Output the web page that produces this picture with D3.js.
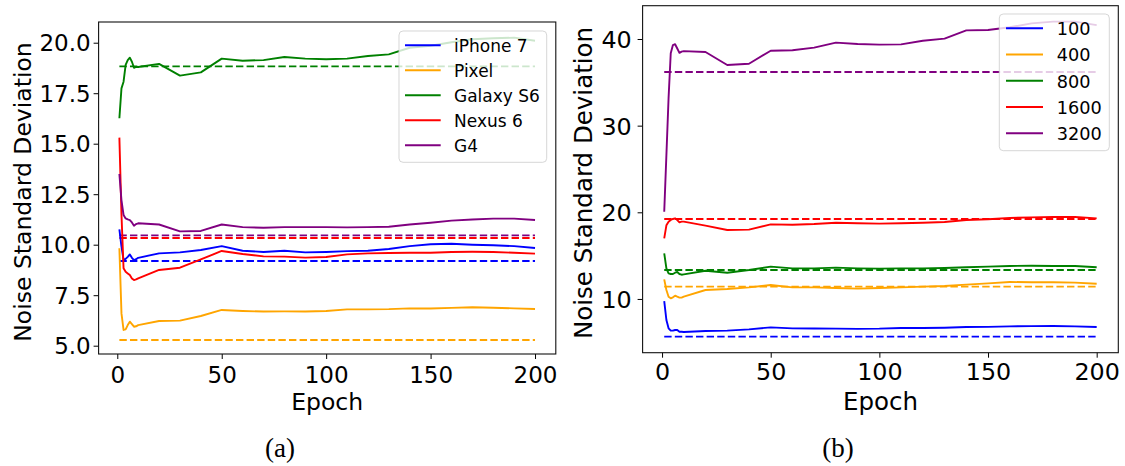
<!DOCTYPE html>
<html>
<head>
<meta charset="utf-8">
<script src="https://cdn.jsdelivr.net/npm/d3@7"></script>
<style>
  html, body { margin: 0; padding: 0; background: #fff; }
  svg { display: block; }
  text { font-family: "DejaVu Sans", sans-serif; fill: #000; }
</style>
</head>
<body>
<svg id="chart" width="1125" height="466"></svg>
<script>
// ---------- data ----------
const epochs = [1,2,3,4,5,6,7,8,9,10,20,30,40,50,60,70,80,90,100,110,120,130,140,150,160,170,180,190,200];

// Panel (a): phones
const phoneNames = ["iPhone 7", "Pixel", "Galaxy S6", "Nexus 6", "G4"];
const phoneColors = ["blue", "orange", "green", "red", "purple"];
const iphone7 = [10.76, 9.9, 9.25, 9.30, 9.40, 9.52, 9.35, 9.24, 9.28, 9.35, 9.57, 9.62, 9.74, 9.93, 9.70, 9.64, 9.70, 9.62, 9.64, 9.68, 9.70, 9.79, 9.93, 10.02, 10.05, 10.00, 9.97, 9.93, 9.84];
const pixel = [9.82, 6.6, 5.78, 5.81, 6.02, 6.19, 6.07, 5.94, 5.96, 6.02, 6.22, 6.24, 6.47, 6.77, 6.72, 6.69, 6.70, 6.69, 6.72, 6.80, 6.80, 6.81, 6.85, 6.84, 6.87, 6.90, 6.88, 6.85, 6.82];
const galaxyS6 = [16.26, 17.74, 18.07, 18.9, 19.14, 19.26, 19.06, 18.76, 18.8, 18.8, 18.95, 18.37, 18.53, 19.21, 19.11, 19.14, 19.29, 19.21, 19.18, 19.21, 19.34, 19.42, 19.75, 19.85, 20.02, 20.17, 20.22, 20.25, 20.10];
const nexus6 = [15.3, 11.5, 8.83, 8.66, 8.58, 8.5, 8.33, 8.25, 8.28, 8.33, 8.75, 8.86, 9.27, 9.69, 9.54, 9.42, 9.41, 9.36, 9.39, 9.52, 9.57, 9.59, 9.60, 9.60, 9.64, 9.65, 9.64, 9.60, 9.56];
const g4 = [13.5, 12.2, 11.47, 11.30, 11.25, 11.22, 11.1, 10.94, 11.02, 11.06, 11.0, 10.66, 10.68, 11.0, 10.87, 10.84, 10.87, 10.87, 10.87, 10.86, 10.87, 10.89, 11.0, 11.09, 11.19, 11.25, 11.29, 11.29, 11.22];
const phoneBaselines = [9.19, 5.28, 18.83, 10.33, 10.46];
const phoneYTicks = [5.0, 7.5, 10.0, 12.5, 15.0, 17.5, 20.0];

// Panel (b): ISO levels
const isoNames = ["100", "400", "800", "1600", "3200"];
const isoColors = ["blue", "orange", "green", "red", "purple"];
const iso100 = [9.76, 7.57, 6.61, 6.34, 6.34, 6.42, 6.42, 6.22, 6.22, 6.19, 6.30, 6.34, 6.49, 6.72, 6.61, 6.59, 6.57, 6.55, 6.57, 6.65, 6.65, 6.68, 6.76, 6.78, 6.84, 6.86, 6.88, 6.84, 6.76];
const iso400 = [12.26, 11.03, 10.26, 10.07, 10.19, 10.38, 10.26, 10.15, 10.15, 10.26, 11.03, 11.15, 11.34, 11.61, 11.34, 11.34, 11.26, 11.19, 11.26, 11.34, 11.42, 11.50, 11.65, 11.80, 11.96, 11.92, 11.92, 11.88, 11.76];
const iso800 = [15.27, 13.53, 12.96, 12.88, 12.88, 13.03, 13.11, 12.88, 12.80, 12.84, 13.26, 13.03, 13.34, 13.73, 13.53, 13.53, 13.61, 13.53, 13.50, 13.53, 13.53, 13.57, 13.65, 13.73, 13.80, 13.84, 13.80, 13.80, 13.65];
const iso1600 = [17.0, 18.5, 18.92, 19.11, 19.23, 19.30, 19.10, 18.84, 18.92, 18.92, 18.46, 17.96, 18.0, 18.61, 18.57, 18.65, 18.80, 18.73, 18.69, 18.73, 18.80, 18.88, 19.11, 19.19, 19.34, 19.42, 19.46, 19.46, 19.30];
const iso3200 = [20.07, 26.6, 33.2, 38.35, 39.3, 39.4, 38.9, 38.4, 38.55, 38.6, 38.5, 37.0, 37.15, 38.65, 38.7, 39.0, 39.58, 39.42, 39.35, 39.38, 39.8, 40.04, 41.0, 41.04, 41.35, 41.8, 42.0, 42.0, 41.6];
const isoBaselines = [5.65, 11.42, 13.34, 19.23, 36.19];
const isoYTicks = [10, 20, 30, 40];

const xTicks = [0, 50, 100, 150, 200];

// ---------- drawing ----------
const svg = d3.select("#chart");

function panel(cfg) {
  const x = d3.scaleLinear().domain([-8.95, 209.95]).range([cfg.left, cfg.right]);
  const y = d3.scaleLinear().domain(cfg.yDomain).range([cfg.bottom, cfg.top]);
  const g = svg.append("g");
  const s = cfg.scale;

  const line = d3.line().x((d, i) => x(epochs[i])).y(d => y(d));

  // dashed baselines
  cfg.series.forEach((vals, k) => {
    g.append("line")
      .attr("x1", x(epochs[0])).attr("x2", x(epochs[epochs.length - 1]))
      .attr("y1", y(cfg.baselines[k])).attr("y2", y(cfg.baselines[k]))
      .attr("stroke", cfg.colors[k]).attr("stroke-width", 1.9)
      .attr("stroke-dasharray", "7.4,3.2");
  });
  // solid curves
  cfg.series.forEach((vals, k) => {
    g.append("path").datum(vals)
      .attr("d", line)
      .attr("fill", "none")
      .attr("stroke", cfg.colors[k])
      .attr("stroke-width", 1.9)
      .attr("stroke-linejoin", "round")
      .attr("stroke-linecap", "butt");
  });

  // axes
  const xAxis = d3.axisBottom(x).tickValues(xTicks).tickSize(5).tickPadding(4).tickFormat(d3.format("d"));
  const gx = g.append("g").attr("transform", `translate(0,${cfg.bottom})`).call(xAxis);
  gx.select(".domain").remove();
  gx.selectAll(".tick line").attr("stroke", "#000").attr("stroke-width", 1);
  gx.selectAll(".tick text").attr("font-size", cfg.tickFont).attr("font-family", "DejaVu Sans")
    .attr("dy", null).attr("y", cfg.xTickBaseline - cfg.bottom);

  const yAxis = d3.axisLeft(y).tickValues(cfg.yTicks).tickSize(5).tickFormat(cfg.yFormat);
  const gy = g.append("g").attr("transform", `translate(${cfg.left},0)`).call(yAxis);
  gy.select(".domain").remove();
  gy.selectAll(".tick line").attr("stroke", "#000").attr("stroke-width", 1);
  gy.selectAll(".tick text").attr("font-size", cfg.tickFont).attr("font-family", "DejaVu Sans")
    .attr("x", cfg.yTickRight - cfg.left).attr("dy", (0.36 * cfg.tickFont) + "px");

  // frame
  g.append("rect")
    .attr("x", cfg.left).attr("y", cfg.top)
    .attr("width", cfg.right - cfg.left).attr("height", cfg.bottom - cfg.top)
    .attr("fill", "none").attr("stroke", "#111").attr("stroke-width", 1.1);

  // axis labels
  g.append("text")
    .attr("x", (cfg.left + cfg.right) / 2).attr("y", cfg.xLabelBaseline)
    .attr("text-anchor", "middle").attr("font-size", cfg.labelFont)
    .text("Epoch");
  g.append("text")
    .attr("transform", `translate(${cfg.yLabelX},${cfg.yLabelY}) rotate(-90)`)
    .attr("text-anchor", "middle").attr("font-size", cfg.labelFont)
    .text("Noise Standard Deviation");

  // caption
  g.append("text")
    .attr("x", cfg.captionX).attr("y", 457)
    .attr("text-anchor", "middle")
    .style("font-family", "'Liberation Serif', 'Times New Roman', serif")
    .attr("font-size", 27)
    .text(cfg.caption);

  // legend
  const L = cfg.legend;
  g.append("rect")
    .attr("x", L.x0).attr("y", L.y0)
    .attr("width", L.x1 - L.x0).attr("height", L.y1 - L.y0)
    .attr("rx", 4).attr("ry", 4)
    .attr("fill", "#fff").attr("fill-opacity", 0.8)
    .attr("stroke", "#ccc").attr("stroke-opacity", 0.8).attr("stroke-width", 1);
  cfg.names.forEach((name, k) => {
    const cy = L.firstY + k * L.step;
    g.append("line")
      .attr("x1", L.lineX0).attr("x2", L.lineX1)
      .attr("y1", cy).attr("y2", cy)
      .attr("stroke", cfg.colors[k]).attr("stroke-width", 1.9);
    g.append("text")
      .attr("x", L.textX).attr("y", cy + 0.38 * L.font)
      .attr("font-size", L.font)
      .text(name);
  });
}

panel({
  left: 98.6, right: 555.8, top: 22, bottom: 354,
  yDomain: [4.589, 21.025],
  yTicks: phoneYTicks, yFormat: d3.format(".1f"),
  series: [iphone7, pixel, galaxyS6, nexus6, g4],
  baselines: phoneBaselines, colors: phoneColors, names: phoneNames,
  scale: 1, tickFont: 23, labelFont: 23.5,
  xTickBaseline: 382.5, yTickRight: 90.7,
  xLabelBaseline: 410, yLabelX: 31, yLabelY: 192,
  caption: "(a)", captionX: 280,
  legend: { x0: 399, y0: 31, x1: 546.7, y1: 162.3, firstY: 45.2, step: 25,
            lineX0: 405, lineX1: 440.7, textX: 454, font: 17 }
});

panel({
  left: 642.6, right: 1118.3, top: 5.7, bottom: 352.7,
  yDomain: [3.797, 43.843],
  yTicks: isoYTicks, yFormat: d3.format("d"),
  series: [iso100, iso400, iso800, iso1600, iso3200],
  baselines: isoBaselines, colors: isoColors, names: isoNames,
  scale: 1.04, tickFont: 23.8, labelFont: 24.5,
  xTickBaseline: 380.5, yTickRight: 631.7,
  xLabelBaseline: 410, yLabelX: 592, yLabelY: 183,
  caption: "(b)", captionX: 838,
  legend: { x0: 999.3, y0: 14, x1: 1109.3, y1: 150.7, firstY: 28.3, step: 26.25,
            lineX0: 1006, lineX1: 1043, textX: 1056.7, font: 17.7 }
});
</script>
</body>
</html>
